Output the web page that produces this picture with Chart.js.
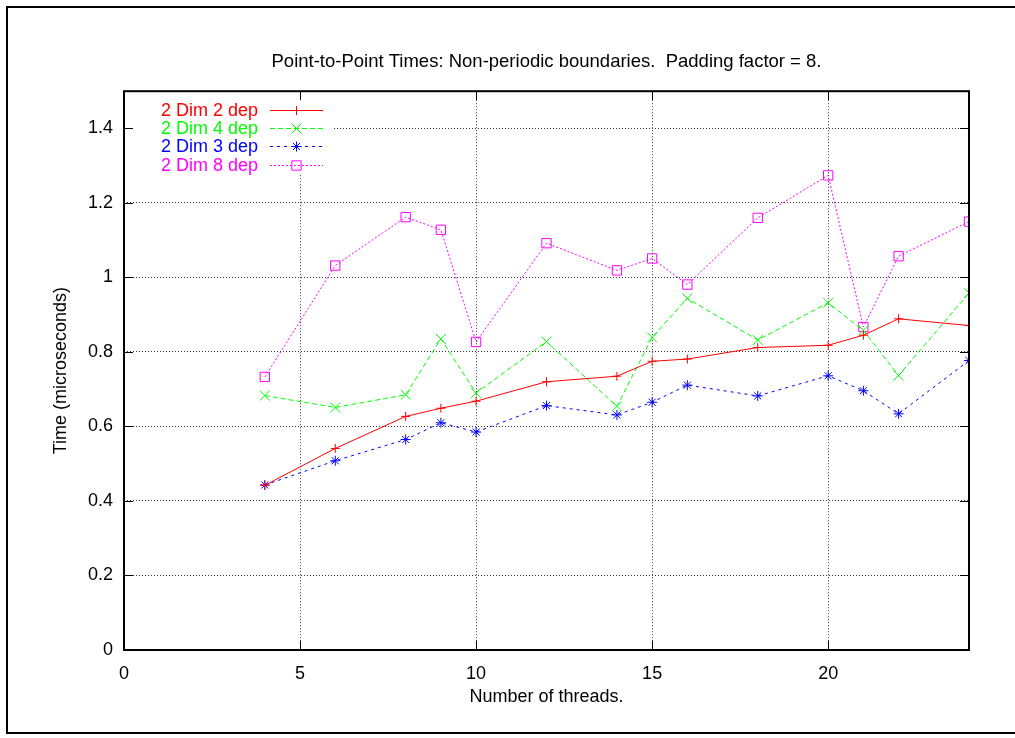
<!DOCTYPE html>
<html>
<head>
<meta charset="utf-8">
<title>Point-to-Point Times</title>
<script src="https://cdn.jsdelivr.net/npm/chart.js@4"></script>
<style>
  html, body { margin: 0; padding: 0; background: #fff; }
  canvas { display: block; }
</style>
</head>
<body>
<canvas id="chart" width="1015" height="738"></canvas>
<script>
// values
const threads = [4, 6, 8, 9, 10, 12, 14, 15, 16, 18, 20, 21, 22, 24];
const dim2dep2 = [0.442, 0.541, 0.627, 0.649, 0.668, 0.720, 0.735, 0.775, 0.781, 0.812, 0.818, 0.845, 0.889, 0.871];
const dim2dep4 = [0.683, 0.651, 0.685, 0.835, 0.690, 0.828, 0.654, 0.839, 0.944, 0.832, 0.932, 0.858, 0.737, 0.958];
const dim2dep3 = [0.443, 0.508, 0.565, 0.610, 0.585, 0.656, 0.631, 0.665, 0.711, 0.682, 0.736, 0.696, 0.634, 0.777];
const dim2dep8 = [0.733, 1.032, 1.162, 1.128, 0.827, 1.092, 1.019, 1.051, 0.981, 1.160, 1.274, 0.867, 1.057, 1.150];
const seriesLabels = ['2 Dim 2 dep', '2 Dim 4 dep', '2 Dim 3 dep', '2 Dim 8 dep'];
const xTickValues = [0, 5, 10, 15, 20];
const yTickValues = [0, 0.2, 0.4, 0.6, 0.8, 1, 1.2, 1.4];

Chart.defaults.font.family = '"Liberation Sans", Arial, sans-serif';
Chart.defaults.font.size = 18;
Chart.defaults.color = '#000';

const toPoints = ys => threads.map((x, i) => ({ x, y: ys[i] }));

const makeSet = (label, ys, color, dash, style, radius) => ({
  label,
  data: toPoints(ys),
  borderColor: color,
  backgroundColor: color,
  pointBackgroundColor: 'rgba(0,0,0,0)',
  pointBorderColor: color,
  borderWidth: 1,
  borderDash: dash,
  pointStyle: style,
  pointRadius: radius,
  pointBorderWidth: 1,
  tension: 0,
  fill: false
});

const datasets = [
  makeSet(seriesLabels[0], dim2dep2, '#ff0000', [], 'cross', 4.5),
  makeSet(seriesLabels[1], dim2dep4, '#00ff00', [5, 3], 'crossRot', 7),
  makeSet(seriesLabels[2], dim2dep3, '#0000ff', [3, 4], 'star', 5),
  makeSet(seriesLabels[3], dim2dep8, '#ff00ff', [2, 2], 'rect', 6.6)
];

// gnuplot look: inward ticks, box, key in the top left, page frame
const gnuFrame = {
  id: 'gnuFrame',
  beforeDatasetsDraw(chart) {
    const { ctx, chartArea: a } = chart;
    ctx.save();
    ctx.fillStyle = '#fff';
    ctx.fillRect(a.left + 1, a.top + 1, 209, 81);
    ctx.restore();
  },
  afterDraw(chart) {
    const { ctx, chartArea: a, scales: { x, y } } = chart;
    ctx.save();
    ctx.strokeStyle = '#000';
    ctx.lineWidth = 1;
    ctx.setLineDash([]);
    ctx.beginPath();
    xTickValues.forEach(v => {
      const px = Math.round(x.getPixelForValue(v)) + 0.5;
      ctx.moveTo(px, a.bottom); ctx.lineTo(px, a.bottom - 9);
      ctx.moveTo(px, a.top); ctx.lineTo(px, a.top + 9);
    });
    yTickValues.forEach(v => {
      const py = Math.round(y.getPixelForValue(v)) + 0.5;
      ctx.moveTo(a.left, py); ctx.lineTo(a.left + 9, py);
      ctx.moveTo(a.right, py); ctx.lineTo(a.right - 9, py);
    });
    ctx.stroke();

    ctx.lineWidth = 2;
    ctx.strokeRect(a.left, a.top, a.right - a.left, a.bottom - a.top);

    ctx.beginPath();
    ctx.moveTo(1015, 7);
    ctx.lineTo(7, 7);
    ctx.lineTo(7, 733);
    ctx.lineTo(1015, 733);
    ctx.stroke();

    // key
    const textRight = a.left + 134;
    const lineStart = a.left + 146;
    const lineEnd = a.left + 199;
    ctx.font = '18px "Liberation Sans", Arial, sans-serif';
    ctx.textAlign = 'right';
    ctx.textBaseline = 'middle';
    chart.data.datasets.forEach((ds, i) => {
      const rowY = Math.round(a.top + 18.5 + i * 18.3) + 0.5;
      ctx.fillStyle = ds.borderColor;
      ctx.fillText(ds.label, textRight, rowY + 1);
      ctx.strokeStyle = ds.borderColor;
      ctx.lineWidth = 1;
      ctx.setLineDash(ds.borderDash);
      ctx.beginPath();
      ctx.moveTo(lineStart, rowY);
      ctx.lineTo(lineEnd, rowY);
      ctx.stroke();
      ctx.setLineDash([]);
      ctx.strokeStyle = ds.borderColor;
      ctx.fillStyle = 'rgba(0,0,0,0)';
      Chart.helpers.drawPoint(ctx, {
        pointStyle: ds.pointStyle, radius: ds.pointRadius, rotation: 0, borderWidth: 1
      }, (lineStart + lineEnd) / 2, rowY);
    });
    ctx.restore();
  }
};

new Chart(document.getElementById('chart'), {
  type: 'line',
  data: { datasets },
  options: {
    responsive: false,
    animation: false,
    events: [],
    layout: { padding: { left: 0, right: 46, top: 0, bottom: 0 } },
    plugins: {
      legend: { display: false },
      tooltip: { enabled: false },
      title: {
        display: true,
        fullSize: false,
        text: 'Point-to-Point Times: Non-periodic boundaries.  Padding factor = 8.',
        color: '#000',
        font: { size: 18.5, weight: 'normal' },
        padding: { top: 51, bottom: 18 }
      }
    },
    scales: {
      x: {
        type: 'linear',
        min: 0,
        max: 24,
        afterBuildTicks: s => { s.ticks = xTickValues.map(value => ({ value })); },
        afterFit: s => { s.height = 88; },
        grid: {
          drawTicks: false,
          lineWidth: 1,
          color: c => (c.tick && c.tick.value === 0 ? 'rgba(0,0,0,0)' : '#333')
        },
        border: { display: false, dash: [1, 2] },
        ticks: { padding: 13, color: '#000', callback: v => String(v) },
        title: { display: true, text: 'Number of threads.', color: '#000', padding: { bottom: 30 } }
      },
      y: {
        type: 'linear',
        min: 0,
        max: 1.5,
        afterBuildTicks: s => { s.ticks = yTickValues.map(value => ({ value })); },
        afterFit: s => { s.width = 124; },
        grid: {
          drawTicks: false,
          lineWidth: 1,
          color: c => (c.tick && c.tick.value === 0 ? 'rgba(0,0,0,0)' : '#333')
        },
        border: { display: false, dash: [1, 2] },
        ticks: { padding: 11, color: '#000', callback: v => String(v) },
        title: { display: true, text: 'Time (microseconds)', color: '#000', padding: { top: 50 } }
      }
    }
  },
  plugins: [gnuFrame]
});
</script>
</body>
</html>
